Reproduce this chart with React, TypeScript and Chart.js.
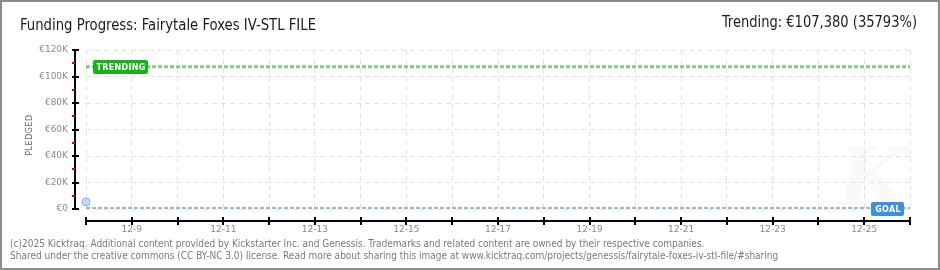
import React, { useEffect, useRef } from "react";
import { Chart, registerables } from "chart.js";

Chart.register(...registerables);

// ---- data ----
const TITLE = "Funding Progress: Fairytale Foxes IV-STL FILE";
const TRENDING_TEXT = "Trending: €107,380 (35793%)";
const FOOTER_LINES = [
  "(c)2025 Kicktraq. Additional content provided by Kickstarter Inc. and Genessis. Trademarks and related content are owned by their respective companies.",
  "Shared under the creative commons (CC BY-NC 3.0) license. Read more about sharing this image at www.kicktraq.com/projects/genessis/fairytale-foxes-iv-stl-file/#sharing",
];
const MONTH = 12;
const DAY_START = 8;
const DAY_END = 26;
const X_LABEL_DAYS = [9, 11, 13, 15, 17, 19, 21, 23, 25];
const PLEDGED_DAYS = [8];
const PLEDGED_VALUES = [5300];
const GOAL_VALUE = 300;
const TRENDING_VALUE = 107380;
const Y_MIN = 0;
const Y_MAX = 120000;
const Y_STEP = 20000;
const Y_MINOR_STEP = 10000;

const GREEN = "#7fcf76";
const BLUE = "#8fb9e8";

const decorPlugin = {
  id: "decor",
  beforeDraw(chart: any) {
    const ctx = chart.ctx;
    ctx.save();
    ctx.fillStyle = "#ffffff";
    ctx.fillRect(0, 0, chart.width, chart.height);
    // watermark
    ctx.fillStyle = "rgba(0,0,0,0.022)";
    ctx.font = 'italic bold 80px "DejaVu Serif", serif';
    ctx.textAlign = "left";
    ctx.textBaseline = "alphabetic";
    ctx.fillText("K", 838, 205);
    ctx.restore();
  },
  afterDraw(chart: any) {
    const ctx = chart.ctx;
    const ya = chart.scales.y;
    const xa = chart.scales.x;
    const area = chart.chartArea;
    ctx.save();

    // border
    ctx.strokeStyle = "#8c8c8c";
    ctx.lineWidth = 2;
    ctx.strokeRect(1, 1, chart.width - 2, chart.height - 2);

    // y axis line + ticks
    const yAxisX = 75;
    ctx.strokeStyle = "#000";
    ctx.lineWidth = 2;
    ctx.beginPath();
    ctx.moveTo(yAxisX, ya.getPixelForValue(Y_MAX));
    ctx.lineTo(yAxisX, ya.getPixelForValue(Y_MIN) + 1);
    ctx.stroke();
    for (let v = Y_MIN; v <= Y_MAX; v += Y_MINOR_STEP) {
      const py = Math.round(ya.getPixelForValue(v));
      const major = v % Y_STEP === 0;
      ctx.strokeStyle = major ? "#000" : "#e00000";
      ctx.lineWidth = 2;
      ctx.beginPath();
      ctx.moveTo(72, py);
      ctx.lineTo(major ? 79 : 75, py);
      ctx.stroke();
    }

    // x axis line + ticks
    const xAxisY = 221;
    ctx.strokeStyle = "#000";
    ctx.lineWidth = 2;
    ctx.beginPath();
    ctx.moveTo(xa.getPixelForValue(DAY_START), xAxisY);
    ctx.lineTo(xa.getPixelForValue(DAY_END), xAxisY);
    ctx.stroke();
    for (let d = DAY_START; d <= DAY_END; d++) {
      const px = Math.round(xa.getPixelForValue(d));
      ctx.beginPath();
      ctx.moveTo(px, 217);
      ctx.lineTo(px, 225);
      ctx.stroke();
    }

    // title and trending
    ctx.fillStyle = "#1a1a1a";
    ctx.textBaseline = "alphabetic";
    ctx.textAlign = "left";
    ctx.font = '16px "Liberation Sans Narrow", "DejaVu Sans Condensed", sans-serif';
    ctx.fillText(TITLE, 20, 30, 296);
    ctx.textAlign = "right";
    ctx.fillText(TRENDING_TEXT, 917, 27, 195);

    // y axis title
    ctx.save();
    ctx.translate(30, 135);
    ctx.rotate(-Math.PI / 2);
    ctx.textAlign = "center";
    ctx.textBaseline = "middle";
    ctx.fillStyle = "#666";
    ctx.font = '8px "DejaVu Sans", sans-serif';
    (ctx as any).letterSpacing = "0.5px";
    ctx.fillText("PLEDGED", 0, 0);
    (ctx as any).letterSpacing = "0px";
    ctx.restore();

    // footer
    ctx.fillStyle = "#7a7a7a";
    ctx.textAlign = "left";
    ctx.font = '10px "DejaVu Sans Condensed", "DejaVu Sans", sans-serif';
    ctx.fillText(FOOTER_LINES[0], 10, 247, 712);
    ctx.fillText(FOOTER_LINES[1], 10, 259, 798);

    // label boxes
    const drawBox = (text: string, x: number, yMid: number, w: number, fill: string) => {
      const h = 14;
      const y = Math.round(yMid - h / 2);
      ctx.fillStyle = fill;
      ctx.beginPath();
      (ctx as any).roundRect(x, y, w, h, 2);
      ctx.fill();
      ctx.fillStyle = "#ffffff";
      ctx.font = 'bold 8px "DejaVu Sans", sans-serif';
      ctx.textAlign = "center";
      ctx.textBaseline = "middle";
      (ctx as any).letterSpacing = "0.3px";
      ctx.fillText(text, x + w / 2 + 0.5, y + h / 2 + 0.5, w - 6);
      (ctx as any).letterSpacing = "0px";
    };
    drawBox("TRENDING", area.left + 7, ya.getPixelForValue(TRENDING_VALUE), 55, "#19b219");
    drawBox("GOAL", area.right - 39, ya.getPixelForValue(GOAL_VALUE), 33, "#3f8fe0");

    ctx.restore();
  },
};

export default function App() {
  const canvasRef = useRef<HTMLCanvasElement | null>(null);

  useEffect(() => {
    if (!canvasRef.current) return;
    const chart = new Chart(canvasRef.current, {
      type: "line",
      data: {
        datasets: [
          {
            label: "Trending",
            data: [
              { x: DAY_START, y: TRENDING_VALUE },
              { x: DAY_END, y: TRENDING_VALUE },
            ],
            borderColor: GREEN,
            borderWidth: 3,
            borderDash: [4, 2],
            pointRadius: 0,
            fill: false,
          },
          {
            label: "Goal",
            data: [
              { x: DAY_START, y: GOAL_VALUE },
              { x: DAY_END, y: GOAL_VALUE },
            ],
            borderColor: BLUE,
            borderWidth: 3,
            borderDash: [4, 2],
            pointRadius: 0,
            fill: false,
          },
          {
            label: "Pledged",
            data: PLEDGED_DAYS.map((d, i) => ({ x: d, y: PLEDGED_VALUES[i] })),
            showLine: false,
            pointRadius: 4,
            pointBackgroundColor: "#c3dbf5",
            pointBorderColor: "#8fb5e0",
            pointBorderWidth: 1,
            clip: false as any,
          },
        ],
      },
      options: {
        animation: false,
        responsive: false,
        maintainAspectRatio: false,
        layout: { padding: { left: 0, top: 50, right: 30, bottom: 31 } },
        plugins: {
          legend: { display: false },
          tooltip: { enabled: false },
          title: { display: false },
        },
        scales: {
          x: {
            type: "linear",
            min: DAY_START,
            max: DAY_END,
            afterFit: (s: any) => {
              s.height = 30;
            },
            grid: { color: "#e2e2e2", drawTicks: false, lineWidth: 1 },
            border: { display: false, dash: [5, 4] },
            ticks: {
              stepSize: 1,
              autoSkip: false,
              maxRotation: 0,
              padding: 15,
              color: "#8a8a8a",
              font: { family: "DejaVu Sans", size: 9 },
              callback: (v: any) => (X_LABEL_DAYS.includes(Number(v)) ? `${MONTH}-${v}` : ""),
            },
          },
          y: {
            type: "linear",
            min: Y_MIN,
            max: Y_MAX,
            afterFit: (s: any) => {
              s.width = 86;
            },
            grid: { color: "#e2e2e2", drawTicks: false, lineWidth: 1 },
            border: { display: false, dash: [5, 4] },
            ticks: {
              stepSize: Y_STEP,
              padding: 18,
              color: "#8a8a8a",
              font: { family: "DejaVu Sans", size: 9 },
              callback: (v: any) => (Number(v) === 0 ? "€0" : `€${Number(v) / 1000}K`),
            },
          },
        },
      },
      plugins: [decorPlugin],
    });
    return () => chart.destroy();
  }, []);

  return (
    <div style={{ position: "fixed", left: 0, top: 0, width: 940, height: 270 }}>
      <canvas ref={canvasRef} width={940} height={270} style={{ display: "block" }} />
    </div>
  );
}
